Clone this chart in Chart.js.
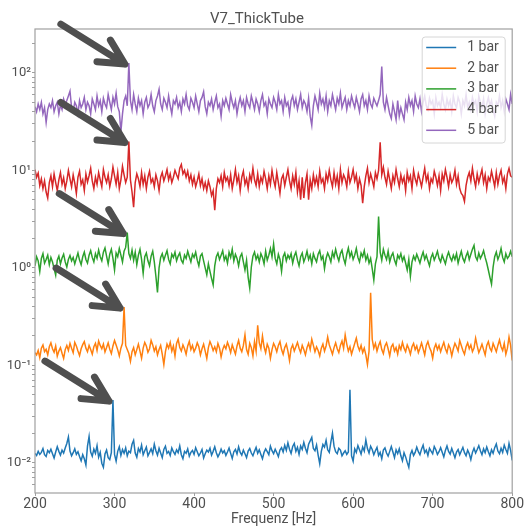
<!DOCTYPE html>
<html>
<head>
<meta charset="utf-8">
<script src="https://cdn.jsdelivr.net/npm/chart.js@4.4.1/dist/chart.umd.min.js"></script>
<style>
html,body{margin:0;padding:0;background:#fff;}
#wrap{width:524px;height:529px;}
</style>
</head>
<body>
<div id="wrap"><canvas id="c" width="524" height="529"></canvas></div>
<script>
const chartTitle = 'V7_ThickTube';
const xAxisTitle = 'Frequenz [Hz]';
const seriesNames = ['1 bar', '2 bar', '3 bar', '4 bar', '5 bar'];
const seriesColors = ['#1f77b4', '#ff7f0e', '#2ca02c', '#d62728', '#9467bd'];
const xTicks = [200, 300, 400, 500, 600, 700, 800];
const yMajor = [0.01, 0.1, 1, 10, 100];
const yMajorLabels = ['10\u207B\u00B2', '10\u207B\u00B9', '10\u2070', '10\u00B9', '10\u00B2'];
const yRange = [0.0049, 282];
const xRange = [200, 800];

const freqs = [
200,202,204,206,208,210,212,214,216,218,
220,222,224,226,228,230,232,234,236,238,
240,242,244,246,248,250,252,254,256,258,
260,262,264,266,268,270,272,274,276,278,
280,282,284,286,288,290,292,294,296,298,
300,302,304,306,308,310,312,314,316,318,
320,322,324,326,328,330,332,334,336,338,
340,342,344,346,348,350,352,354,356,358,
360,362,364,366,368,370,372,374,376,378,
380,382,384,386,388,390,392,394,396,398,
400,402,404,406,408,410,412,414,416,418,
420,422,424,426,428,430,432,434,436,438,
440,442,444,446,448,450,452,454,456,458,
460,462,464,466,468,470,472,474,476,478,
480,482,484,486,488,490,492,494,496,498,
500,502,504,506,508,510,512,514,516,518,
520,522,524,526,528,530,532,534,536,538,
540,542,544,546,548,550,552,554,556,558,
560,562,564,566,568,570,572,574,576,578,
580,582,584,586,588,590,592,594,596,598,
600,602,604,606,608,610,612,614,616,618,
620,622,624,626,628,630,632,634,636,638,
640,642,644,646,648,650,652,654,656,658,
660,662,664,666,668,670,672,674,676,678,
680,682,684,686,688,690,692,694,696,698,
700,702,704,706,708,710,712,714,716,718,
720,722,724,726,728,730,732,734,736,738,
740,742,744,746,748,750,752,754,756,758,
760,762,764,766,768,770,772,774,776,778,
780,782,784,786,788,790,792,794,796,798,
800];

const bar1 = [
.0125,.0119,.0131,.0122,.0128,.0140,.0121,.0116,.0134,.0127,
.0138,.0124,.0112,.0129,.0146,.0131,.0120,.0135,.0126,.0142,
.0158,.0184,.0132,.0118,.0127,.0139,.0122,.0130,.0116,.0105,
.0121,.0110,.0095,.0148,.0186,.0129,.0117,.0138,.0125,.0150,
.0114,.0128,.0099,.0090,.0123,.0135,.0113,.0108,.0127,.0440,
.0122,.0104,.0131,.0146,.0119,.0137,.0125,.0142,.0118,.0132,
.0127,.0155,.0170,.0126,.0114,.0140,.0129,.0152,.0121,.0133,
.0145,.0118,.0128,.0139,.0124,.0155,.0133,.0120,.0141,.0126,
.0113,.0137,.0148,.0125,.0131,.0119,.0142,.0130,.0122,.0136,
.0127,.0149,.0121,.0110,.0131,.0125,.0139,.0117,.0128,.0134,
.0122,.0143,.0130,.0118,.0126,.0137,.0112,.0124,.0135,.0129,
.0141,.0120,.0131,.0146,.0127,.0115,.0124,.0138,.0126,.0133,
.0119,.0129,.0142,.0125,.0111,.0130,.0137,.0123,.0146,.0128,
.0120,.0135,.0124,.0113,.0132,.0140,.0126,.0118,.0131,.0144,
.0125,.0136,.0122,.0110,.0128,.0139,.0130,.0121,.0148,.0133,
.0124,.0138,.0127,.0116,.0135,.0143,.0129,.0151,.0134,.0160,
.0138,.0125,.0147,.0158,.0131,.0144,.0122,.0149,.0137,.0162,
.0141,.0127,.0155,.0168,.0182,.0140,.0133,.0152,.0120,.0098,
.0131,.0154,.0145,.0170,.0136,.0128,.0163,.0202,.0148,.0130,
.0124,.0141,.0135,.0118,.0126,.0133,.0122,.0129,.0560,.0118,
.0104,.0139,.0128,.0150,.0136,.0123,.0145,.0132,.0172,.0140,
.0126,.0148,.0137,.0121,.0133,.0144,.0119,.0128,.0110,.0135,
.0142,.0126,.0117,.0131,.0147,.0129,.0113,.0136,.0124,.0139,
.0118,.0105,.0127,.0115,.0101,.0090,.0122,.0134,.0119,.0128,
.0145,.0130,.0121,.0138,.0152,.0127,.0135,.0119,.0141,.0132,
.0124,.0147,.0136,.0122,.0130,.0143,.0128,.0115,.0134,.0149,
.0131,.0123,.0140,.0126,.0113,.0129,.0137,.0121,.0132,.0144,
.0127,.0118,.0135,.0124,.0108,.0128,.0141,.0126,.0137,.0150,
.0133,.0121,.0139,.0127,.0145,.0130,.0118,.0136,.0125,.0143,
.0156,.0132,.0124,.0141,.0128,.0152,.0137,.0125,.0158,.0134,
.0106];

const bar2 = [
.135,.128,.142,.120,.150,.162,.138,.146,.128,.155,
.170,.148,.136,.158,.124,.140,.152,.133,.118,.145,
.160,.142,.168,.150,.135,.172,.158,.140,.126,.148,
.163,.175,.150,.138,.160,.145,.130,.155,.168,.142,
.178,.160,.148,.165,.137,.152,.170,.146,.132,.158,
.180,.162,.144,.125,.150,.168,.396,.160,.145,.132,
.110,.138,.152,.128,.145,.165,.140,.118,.150,.172,
.158,.136,.148,.180,.162,.140,.155,.128,.145,.160,
.130,.102,.138,.165,.150,.172,.140,.158,.125,.168,
.185,.152,.140,.162,.148,.130,.158,.176,.145,.160,
.138,.150,.170,.155,.128,.148,.165,.140,.118,.152,
.175,.160,.142,.155,.138,.168,.150,.122,.145,.160,
.148,.172,.155,.135,.162,.145,.130,.158,.180,.150,
.138,.160,.205,.145,.130,.168,.152,.125,.175,.140,
.258,.170,.148,.200,.155,.135,.165,.150,.118,.145,
.168,.155,.138,.160,.175,.145,.130,.152,.165,.140,
.112,.148,.162,.140,.155,.172,.150,.135,.160,.145,
.128,.152,.168,.145,.185,.160,.138,.155,.142,.125,
.150,.165,.140,.158,.195,.162,.145,.130,.152,.170,
.148,.135,.160,.178,.150,.205,.165,.140,.155,.130,
.148,.168,.190,.158,.142,.160,.135,.150,.128,.102,
.140,.556,.185,.150,.168,.140,.160,.175,.145,.132,
.158,.170,.148,.125,.155,.165,.140,.152,.130,.160,
.145,.172,.150,.138,.162,.148,.130,.155,.168,.145,
.158,.135,.150,.170,.148,.128,.160,.175,.152,.140,
.118,.150,.165,.145,.160,.138,.155,.172,.148,.135,
.162,.150,.125,.148,.168,.155,.140,.180,.160,.142,
.130,.155,.170,.148,.162,.138,.150,.190,.158,.135,
.148,.165,.145,.128,.160,.175,.150,.140,.168,.152,
.138,.160,.182,.155,.142,.168,.130,.150,.195,.160,
.112];

const bar3 = [
1.05,1.30,1.18,0.92,1.25,1.40,1.12,1.22,1.35,1.08,
1.28,1.15,0.98,0.84,1.20,1.32,1.10,1.26,1.38,1.15,
1.02,1.22,1.34,1.18,1.28,1.10,1.25,1.42,1.20,1.08,
1.30,1.45,1.22,1.12,1.35,1.50,1.28,1.15,1.40,1.25,
1.52,1.30,1.18,1.45,1.60,1.32,1.10,1.38,1.55,1.25,
0.95,1.42,1.30,1.58,1.35,1.15,1.48,1.62,2.30,1.40,
1.25,1.52,1.20,1.45,1.08,1.35,1.55,1.22,0.88,1.30,
1.42,1.18,1.05,1.32,1.48,1.15,0.82,0.56,1.00,1.28,
1.40,1.20,1.35,1.50,1.22,1.10,1.38,1.28,1.45,1.18,
1.32,1.42,1.20,1.12,1.35,1.25,1.48,1.30,1.15,1.38,
1.28,1.45,1.20,1.05,1.32,1.40,1.18,1.00,0.85,1.10,
0.92,0.78,0.67,1.05,1.30,1.42,1.22,1.35,1.50,1.20,
1.32,1.12,1.45,1.28,1.55,1.18,1.38,1.25,1.05,1.30,
1.40,1.15,0.95,1.20,0.80,0.62,1.02,1.32,1.45,1.22,
1.35,1.15,1.40,1.28,1.10,1.48,1.20,1.35,1.58,1.30,
1.75,1.25,1.10,1.38,1.22,0.92,1.30,1.42,1.18,1.35,
1.25,1.40,1.12,1.32,1.45,1.20,1.05,1.30,1.42,1.15,
1.28,1.48,1.22,1.35,1.10,1.40,1.25,1.15,1.38,1.50,
1.22,1.32,0.98,1.25,1.42,1.30,1.15,1.45,1.28,1.55,
1.32,1.18,1.40,1.52,1.25,1.10,1.38,1.60,1.30,1.45,
1.22,1.35,1.58,1.28,1.15,1.42,1.30,1.50,1.20,1.35,
1.12,1.25,0.98,0.75,1.10,1.30,3.36,1.45,1.20,1.55,
1.35,1.22,1.48,1.15,1.32,1.42,1.20,1.08,1.35,1.25,
1.40,1.18,1.30,1.12,0.95,1.22,0.82,1.15,1.32,1.20,
1.38,1.25,1.12,1.30,1.45,1.22,1.35,1.18,1.05,1.28,
1.40,1.20,1.32,1.48,1.25,1.15,1.35,1.22,1.10,1.30,
1.45,1.28,1.18,1.35,1.22,1.40,1.12,1.30,1.48,1.25,
1.15,1.32,1.45,1.22,1.38,1.55,1.70,1.30,1.20,1.42,
1.25,1.35,1.50,1.28,1.12,0.95,0.80,0.68,1.02,1.30,
1.45,1.22,1.35,1.58,1.28,1.15,1.40,1.25,1.32,1.48,
1.30];

const bar4 = [
10.2,8.5,9.4,7.0,8.2,6.5,7.8,6.0,5.2,7.5,
8.8,6.8,9.2,7.5,6.2,8.0,9.5,7.2,8.4,6.5,
7.8,10.0,8.2,6.8,9.0,7.4,5.8,8.5,9.8,7.2,
8.0,6.2,9.2,7.6,8.8,10.5,7.8,6.5,8.5,7.2,
9.5,8.0,6.8,10.2,8.5,7.5,9.0,6.8,8.2,10.8,
8.8,7.2,9.5,6.5,8.0,11.0,9.0,7.5,8.5,19.8,
8.0,6.0,4.2,7.5,9.2,8.2,6.8,9.5,7.2,8.8,
6.5,8.5,9.8,7.5,8.2,6.8,9.0,7.8,6.2,8.5,
9.5,7.8,8.8,10.2,8.0,9.2,7.5,8.5,10.0,9.0,
8.2,10.5,11.5,9.2,10.0,8.5,9.8,7.8,9.0,7.2,
8.5,6.8,7.8,9.2,7.0,8.2,6.5,7.5,6.2,7.8,
6.8,5.5,6.2,3.9,6.5,8.2,7.5,8.8,6.8,9.5,
7.8,8.5,7.0,9.0,6.5,8.0,10.2,7.5,8.8,6.2,
8.5,9.8,7.2,8.2,6.5,9.0,7.8,10.5,8.0,7.0,
9.2,6.8,8.5,7.5,9.8,8.2,6.5,8.8,7.2,10.0,
8.0,6.8,9.5,7.5,5.8,8.2,9.0,7.0,8.5,10.2,
7.8,6.5,8.8,7.2,9.5,6.0,7.8,5.0,8.5,5.2,
7.5,9.2,5.0,8.0,6.5,9.0,7.2,8.5,6.8,9.8,
7.5,8.2,6.5,9.2,7.8,10.0,8.0,6.8,9.5,7.2,
8.8,6.5,10.2,7.5,9.0,8.2,6.8,9.8,7.5,8.5,
10.2,7.8,9.0,6.5,8.2,7.0,4.6,6.8,8.8,10.5,
7.5,9.2,8.0,6.8,9.5,8.2,10.0,19.4,9.0,10.8,
8.5,7.2,9.8,8.0,6.5,8.8,7.5,10.2,8.2,6.8,
9.0,7.5,8.5,6.2,9.5,7.8,8.8,6.5,10.0,8.2,
7.2,9.2,8.0,6.8,8.5,10.5,7.8,9.0,6.5,8.2,
7.5,9.8,8.5,7.0,8.8,6.2,9.2,7.8,10.2,8.5,
6.8,9.0,7.5,8.2,10.0,7.2,8.8,6.5,5.8,5.5,
4.8,7.0,8.5,9.5,7.8,10.5,8.2,6.8,9.2,7.5,
8.8,10.2,7.5,9.0,6.5,8.5,7.8,9.8,8.2,6.8,
9.5,7.2,8.8,10.0,7.5,8.5,6.5,9.2,10.5,8.8,
8.5];

const bar5 = [
45,40,48,42,50,38,44,31,42,48,
44,52,40,46,50,38,47,42,54,48,
52,58,65,44,40,50,46,38,52,44,
48,56,42,50,46,38,54,48,42,58,
46,52,40,55,48,44,60,50,42,56,
48,62,45,40,25,38,52,58,46,126,
52,42,60,48,40,55,46,52,38,50,
56,44,48,60,46,40,52,58,68,48,
42,55,50,44,58,46,38,52,48,56,
44,50,40,54,48,60,46,42,55,50,
44,58,48,40,52,56,64,45,38,50,
46,54,42,50,58,44,48,36,52,46,
55,48,42,60,50,44,52,38,48,56,
46,52,40,56,48,44,58,50,42,54,
48,40,52,60,46,50,38,54,48,44,
56,50,42,60,48,52,40,56,46,50,
38,52,58,46,54,42,50,60,44,52,
48,40,55,36,29,46,58,50,42,62,
48,54,44,58,40,52,46,60,50,42,
55,48,62,44,50,56,42,52,46,58,
50,44,56,48,40,54,60,46,52,42,
58,48,44,55,50,46,52,60,116,50,
42,56,46,38,34,48,40,33,52,36,
44,38,33,50,42,56,46,52,40,58,
48,44,54,40,50,58,46,42,55,48,
52,38,56,46,50,44,60,48,42,54,
46,52,40,58,48,44,56,50,38,52,
46,60,44,50,42,56,48,52,40,58,
50,44,54,38,48,56,46,52,42,36,
50,46,58,44,52,40,54,48,42,60,
48];

const seriesValues = [bar1, bar2, bar3, bar4, bar5];
// arrows point at the first harmonic peak of each series (series index, frequency)
const arrowSeries = [4, 3, 2, 1, 0];
const arrowFreqs = [318, 318, 316, 312, 298];

const FONT = 'Roboto, "Noto Sans", sans-serif';
const TEXT = '#505050';

function isMajor(v) {
  return yMajor.findIndex(m => Math.abs(Math.log10(v) - Math.log10(m)) < 1e-6);
}
function isLogTick(v) {
  const e = Math.floor(Math.log10(v) + 1e-9);
  const m = v / Math.pow(10, e);
  return Math.abs(m - Math.round(m)) < 1e-6;
}

const framePlugin = {
  id: 'frame',
  afterDatasetsDraw(chart) {
    const {ctx, chartArea: a} = chart;
    ctx.save();
    ctx.strokeStyle = '#a0a0a0';
    ctx.lineWidth = 1.2;
    ctx.strokeRect(a.left, a.top, a.right - a.left, a.bottom - a.top);
    ctx.restore();
  }
};

const legendPlugin = {
  id: 'boxLegend',
  afterDatasetsDraw(chart) {
    const {ctx, chartArea: a} = chart;
    const w = 83, h = 106;
    const x = a.right - 7 - w, y = a.top + 8;
    ctx.save();
    ctx.beginPath();
    if (ctx.roundRect) ctx.roundRect(x, y, w, h, 3); else ctx.rect(x, y, w, h);
    ctx.fillStyle = 'rgba(255,255,255,0.8)';
    ctx.fill();
    ctx.strokeStyle = '#d6d6d6';
    ctx.lineWidth = 1;
    ctx.stroke();
    ctx.font = '14px ' + FONT;
    ctx.textBaseline = 'middle';
    ctx.textAlign = 'left';
    seriesNames.forEach((name, i) => {
      const ry = y + 10.5 + i * 20.7;
      ctx.strokeStyle = seriesColors[i];
      ctx.lineWidth = 1.5;
      ctx.beginPath();
      ctx.moveTo(x + 4, ry);
      ctx.lineTo(x + 34, ry);
      ctx.stroke();
      ctx.fillStyle = TEXT;
      ctx.fillText(name, x + 45, ry);
    });
    ctx.restore();
  }
};

const arrowPlugin = {
  id: 'arrows',
  afterDraw(chart) {
    const {ctx} = chart;
    ctx.save();
    ctx.strokeStyle = '#4f4f4f';
    ctx.lineWidth = 7;
    ctx.lineCap = 'round';
    ctx.lineJoin = 'round';
    arrowSeries.forEach((si, k) => {
      const idx = freqs.indexOf(arrowFreqs[k]);
      const pt = chart.getDatasetMeta(si).data[idx];
      if (!pt) return;
      const tx = pt.x - 4, ty = pt.y + 1;
      const sx = tx - 64, sy = ty - 40;
      const ang = Math.atan2(sy - ty, sx - tx);
      const L = 28, d = 27 * Math.PI / 180;
      ctx.beginPath();
      ctx.moveTo(sx, sy);
      ctx.lineTo(tx, ty);
      ctx.moveTo(tx + L * Math.cos(ang - d), ty + L * Math.sin(ang - d));
      ctx.lineTo(tx, ty);
      ctx.lineTo(tx + L * Math.cos(ang + d), ty + L * Math.sin(ang + d));
      ctx.stroke();
    });
    ctx.restore();
  }
};

const datasets = seriesValues.map((vals, i) => ({
  label: seriesNames[i],
  data: freqs.map((f, j) => ({x: f, y: vals[j]})),
  borderColor: seriesColors[i],
  backgroundColor: seriesColors[i],
  borderWidth: 1.5,
  pointRadius: 0,
  tension: 0,
  fill: false
}));

new Chart(document.getElementById('c'), {
  type: 'line',
  data: {datasets},
  plugins: [framePlugin, legendPlugin, arrowPlugin],
  options: {
    responsive: false,
    animation: false,
    devicePixelRatio: 1,
    layout: {padding: {left: 0, right: 10, top: 0, bottom: 0}},
    plugins: {
      legend: {display: false},
      tooltip: {enabled: false},
      title: {
        display: true,
        text: chartTitle,
        color: TEXT,
        font: {family: FONT, size: 15, weight: 'normal'},
        padding: {top: 10, bottom: 1}
      }
    },
    scales: {
      x: {
        type: 'linear',
        min: xRange[0],
        max: xRange[1],
        afterBuildTicks: s => { s.ticks = xTicks.map(v => ({value: v})); },
        afterFit: s => { s.height = 36; },
        grid: {drawOnChartArea: false, tickLength: 3, color: '#a0a0a0'},
        border: {display: false},
        ticks: {
          color: TEXT,
          font: {family: FONT, size: 14},
          padding: 0,
          maxRotation: 0,
          callback: v => String(v)
        },
        title: {
          display: true,
          text: xAxisTitle,
          color: TEXT,
          font: {family: FONT, size: 14},
          padding: {top: 0, bottom: 1}
        }
      },
      y: {
        type: 'logarithmic',
        min: yRange[0],
        max: yRange[1],
        afterFit: s => { s.width = 35; },
        grid: {
          drawOnChartArea: false,
          tickLength: 3,
          color: ctx => (ctx.tick && isLogTick(ctx.tick.value)) ? '#a0a0a0' : 'rgba(0,0,0,0)'
        },
        border: {display: false},
        ticks: {
          color: TEXT,
          font: {family: FONT, size: 13},
          padding: 1,
          autoSkip: false,
          callback: v => { const k = isMajor(v); return k >= 0 ? yMajorLabels[k] : ''; }
        }
      }
    }
  }
});
</script>
</body>
</html>
